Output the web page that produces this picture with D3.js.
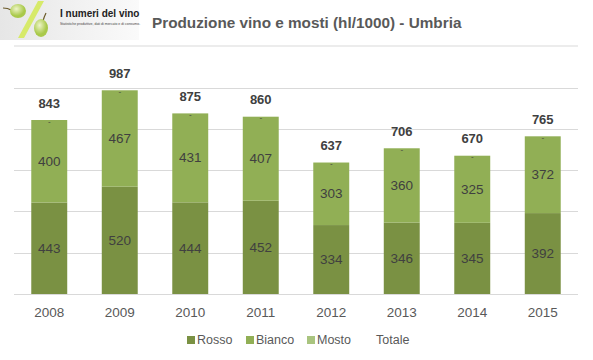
<!DOCTYPE html>
<html><head><meta charset="utf-8">
<script src="https://cdn.jsdelivr.net/npm/d3@7"></script>
<style>body{margin:0;background:#fff;}svg{display:block;font-family:"Liberation Sans",Arial,sans-serif;}</style>
</head><body>
<svg id="c" width="593" height="360"></svg>
<script>
const years = ["2008","2009","2010","2011","2012","2013","2014","2015"];
const rosso = [443,520,444,452,334,346,345,392];
const bianco = [400,467,431,407,303,360,325,372];
const mosto = [0,0,0,0,0,0,0,0];
const totale = [843,987,875,860,637,706,670,765];
const yTicks = [0,200,400,600,800,1000];
const seriesNames = ["Rosso","Bianco","Mosto"];
const colors = {Rosso:"#7a9143", Bianco:"#91af55", Mosto:"#a9c47f"};

const rows = years.map((y,i)=>({year:y, Rosso:rosso[i], Bianco:bianco[i], Mosto:mosto[i], Totale:totale[i]}));
const svg = d3.select("#c");

// logo
const defs = svg.append("defs");
const lg = defs.append("linearGradient").attr("id","lg").attr("x1","0").attr("x2","1");
lg.append("stop").attr("offset","0").attr("stop-color","#e6e6e6");
lg.append("stop").attr("offset","1").attr("stop-color","#fafafa");
const gg = defs.append("radialGradient").attr("id","grape").attr("cx","0.4").attr("cy","0.35");
gg.append("stop").attr("offset","0").attr("stop-color","#eef5c8");
gg.append("stop").attr("offset","1").attr("stop-color","#a9c94a");
svg.append("rect").attr("x",0).attr("y",0).attr("width",139).attr("height",40).attr("fill","url(#lg)");
svg.append("path").attr("d","M38,1 L44,1 L24,38 L18,38 Z").attr("fill","#d7ea6a");
svg.append("path").attr("d","M3,8 Q8,8 11,10").attr("stroke","#6b5a2a").attr("stroke-width",1.2).attr("fill","none");
svg.append("ellipse").attr("cx",18).attr("cy",11).attr("rx",8).attr("ry",7).attr("fill","url(#grape)");
svg.append("path").attr("d","M46,13 Q44,17 43,21").attr("stroke","#6b5a2a").attr("stroke-width",1.2).attr("fill","none");
svg.append("ellipse").attr("cx",41).attr("cy",28).attr("rx",7).attr("ry",9).attr("fill","url(#grape)");
svg.append("text").attr("x",60).attr("y",17).attr("font-size",10).attr("font-weight","bold").attr("fill","#222").text("I numeri del vino");
svg.append("text").attr("x",60).attr("y",24.5).attr("font-size",3.5).attr("fill","#444").text("Statistiche produttive, dati di mercato e di consumo.");

// title
svg.append("text").attr("x",152).attr("y",28).attr("font-size",15.3).attr("font-weight","bold").attr("fill","#595959").text("Produzione vino e mosti (hl/1000) - Umbria");
svg.append("line").attr("x1",14).attr("x2",578).attr("y1",46).attr("y2",46).attr("stroke","#d9d9d9");

const x = d3.scaleBand().domain(years).range([14,578]).paddingInner(0.49).paddingOuter(0.245);
const y = d3.scaleLinear().domain([0,1000]).range([294,87.6]);

// gridlines
svg.append("g").selectAll("line").data(yTicks).join("line")
  .attr("x1",14).attr("x2",578).attr("y1",d=>Math.round(y(d))+0.5).attr("y2",d=>Math.round(y(d))+0.5)
  .attr("stroke","#d9d9d9");

const stack = d3.stack().keys(seriesNames)(rows);
const g = svg.append("g");
stack.forEach(s=>{
  g.append("g").attr("fill",colors[s.key]).selectAll("rect").data(s).join("rect")
   .attr("x",d=>x(d.data.year)).attr("width",x.bandwidth())
   .attr("y",d=>y(d[1])).attr("height",d=>y(d[0])-y(d[1]));
});
// inner labels
stack.slice(0,2).forEach(s=>{
  g.append("g").selectAll("text").data(s).join("text")
   .attr("x",d=>x(d.data.year)+x.bandwidth()/2).attr("y",d=>(y(d[0])+y(d[1]))/2)
   .attr("text-anchor","middle").attr("dominant-baseline","central")
   .attr("font-size",13.5).attr("fill","#404040").text(d=>d[1]-d[0]);
});
// mosto "-" labels
g.append("g").selectAll("text").data(stack[2]).join("text")
  .attr("x",d=>x(d.data.year)+x.bandwidth()/2).attr("y",d=>y(d[1])+1)
  .attr("text-anchor","middle").attr("dominant-baseline","central")
  .attr("font-size",8).attr("fill","#404040").text("-");
// totals
g.append("g").selectAll("text").data(rows).join("text")
  .attr("x",d=>x(d.year)+x.bandwidth()/2).attr("y",d=>y(d.Totale)-17)
  .attr("text-anchor","middle").attr("dominant-baseline","central")
  .attr("font-size",13).attr("font-weight","bold").attr("fill","#404040").text(d=>d.Totale);

// x axis
const xa = svg.append("g").attr("transform","translate(0,294)").call(d3.axisBottom(x).tickSize(0).tickPadding(0));
xa.select(".domain").remove();
xa.selectAll("text").attr("y",18).attr("dy","0").attr("dominant-baseline","central")
  .attr("font-size",13.5).attr("fill","#595959").attr("font-family","Liberation Sans, Arial, sans-serif");

// legend
const legend = [{name:"Rosso",sx:187,tx:197},{name:"Bianco",sx:246,tx:256},{name:"Mosto",sx:307,tx:317},{name:"Totale",sx:null,tx:376}];
const lgG = svg.append("g");
legend.forEach(l=>{
  if(l.sx!==null) lgG.append("rect").attr("x",l.sx).attr("y",336).attr("width",8).attr("height",8).attr("fill",colors[l.name]);
  lgG.append("text").attr("x",l.tx).attr("y",340).attr("dominant-baseline","central")
    .attr("font-size",12.5).attr("fill","#595959").text(l.name);
});
</script>
</body></html>
